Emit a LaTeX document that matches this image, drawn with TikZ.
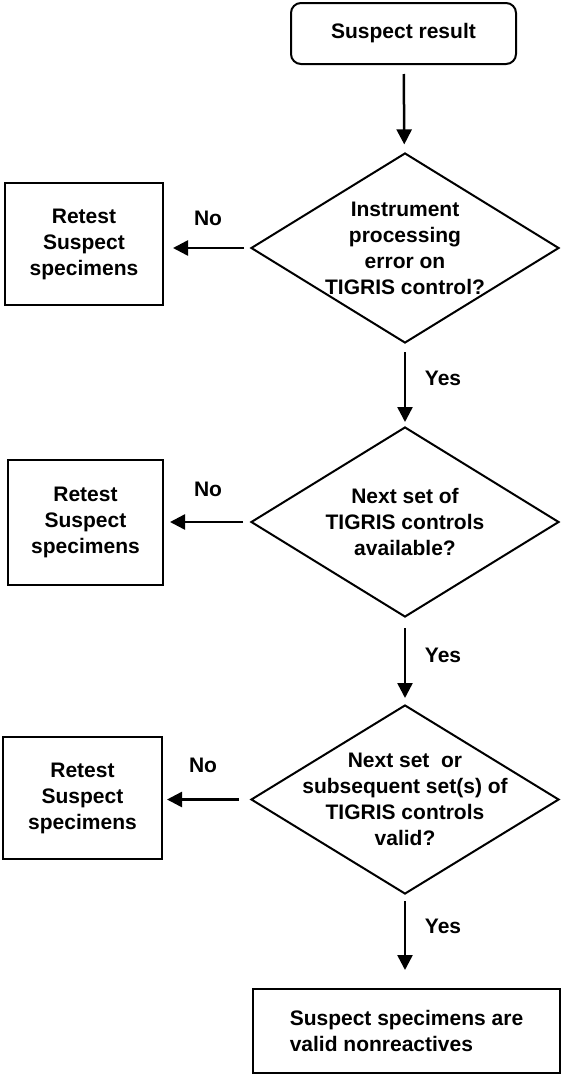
\documentclass[tikz,border=0pt]{standalone}
\usepackage{fontspec}
\setmainfont{Liberation Sans}
\usetikzlibrary{arrows.meta, shapes.geometric}

\begin{document}
\begin{tikzpicture}[
    box/.style={rectangle, draw=black, line width=2pt, inner sep=0pt, font=\bfseries\fontsize{21}{26}\selectfont, align=center},
    startbox/.style={box, rounded corners=10pt},
    ask/.style={diamond, draw=black, line width=2pt, inner sep=0pt, minimum width=308pt},
    asktext/.style={font=\bfseries\fontsize{21}{26}\selectfont, align=center},
    note/.style={font=\bfseries\fontsize{21}{26}\selectfont},
    flow/.style={line width=2.5pt, -{Triangle[length=15pt, width=15pt]}},
    x=1pt, y=-1pt]

    \useasboundingbox (0, 0) rectangle (561, 1074);

    % ----- main column
    \node[startbox, minimum width=225pt, minimum height=61pt] (start) at (403.5, 33.5) {Suspect result};
    \node[ask, minimum height=190pt, label={[asktext]center:Instrument\\processing\\error on\\TIGRIS control?}] (d1) at (405, 248) {};
    \node[ask, minimum height=190pt, label={[asktext]center:Next set of\\TIGRIS controls\\available?}] (d2) at (405, 522) {};
    \node[ask, minimum height=189pt, label={[asktext]center:Next set\ \ or\\subsequent set(s) of\\TIGRIS controls\\valid?}] (d3) at (405, 799.5) {};
    \node[box, minimum width=307pt, minimum height=84pt, align=left] (done) at (406.5, 1031) {Suspect specimens are\\valid nonreactives};

    % ----- retest boxes on the left
    \node[box, minimum width=158pt, minimum height=122pt] (r1) at (84, 244) {Retest\\Suspect\\specimens};
    \node[box, minimum width=155pt, minimum height=125pt] (r2) at (85.5, 522.5) {Retest\\Suspect\\specimens};
    \node[box, minimum width=159pt, minimum height=122pt] (r3) at (82.5, 798) {Retest\\Suspect\\specimens};

    % ----- yes branches
    \draw[flow, shorten <=9pt, shorten >=8pt] (start) -- (d1);
    \draw[flow, shorten <=8pt, shorten >=4pt] (d1) -- (d2);
    \draw[flow, shorten <=10pt, shorten >=6pt] (d2) -- (d3);
    \draw[flow, shorten <=6pt, shorten >=18pt] (d3) -- (done.north -| d3.south);
    \node[note] at (443, 378) {Yes};
    \node[note] at (443, 655) {Yes};
    \node[note] at (443, 926) {Yes};

    % ----- no branches
    \draw[flow, shorten <=6pt, shorten >=9pt] (d1.west) -- (d1.west -| r1.east);
    \draw[flow, shorten <=7pt, shorten >=6pt] (d2.west) -- (d2.west -| r2.east);
    \draw[flow, shorten <=11pt, shorten >=4pt] (d3.west) -- (d3.west -| r3.east);
    \node[note] at (208, 218) {No};
    \node[note] at (208, 489) {No};
    \node[note] at (203, 765) {No};
\end{tikzpicture}
\end{document}
